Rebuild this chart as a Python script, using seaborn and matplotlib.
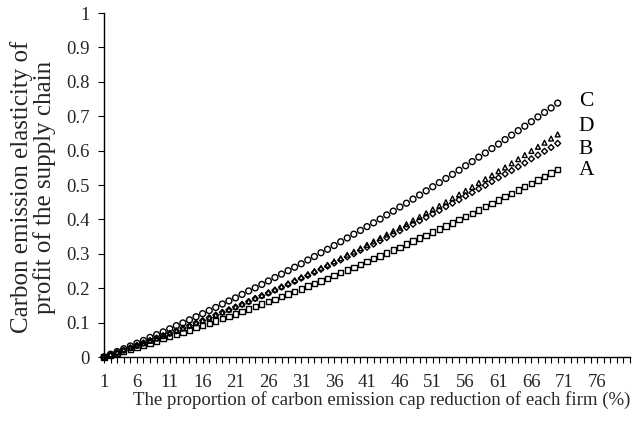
import matplotlib
matplotlib.use("Agg")
import matplotlib.pyplot as plt
import seaborn as sns
import pandas as pd

x_vals = list(range(1, 71))

series_A = [0.000, 0.006, 0.011, 0.017, 0.023, 0.029, 0.035, 0.041, 0.047, 0.053,
            0.059, 0.066, 0.072, 0.078, 0.085, 0.092, 0.098, 0.105, 0.112, 0.118,
            0.125, 0.132, 0.139, 0.146, 0.154, 0.161, 0.168, 0.176, 0.183, 0.190,
            0.198, 0.206, 0.213, 0.221, 0.229, 0.237, 0.245, 0.253, 0.261, 0.269,
            0.277, 0.286, 0.294, 0.302, 0.311, 0.319, 0.328, 0.337, 0.346, 0.354,
            0.363, 0.372, 0.381, 0.390, 0.400, 0.409, 0.418, 0.427, 0.437, 0.446,
            0.456, 0.466, 0.475, 0.485, 0.495, 0.505, 0.515, 0.525, 0.535, 0.545]

series_B = [0.000, 0.007, 0.013, 0.020, 0.027, 0.034, 0.041, 0.048, 0.055, 0.062,
            0.069, 0.076, 0.084, 0.091, 0.099, 0.106, 0.114, 0.122, 0.130, 0.137,
            0.145, 0.153, 0.161, 0.170, 0.178, 0.186, 0.194, 0.203, 0.211, 0.220,
            0.229, 0.237, 0.246, 0.255, 0.264, 0.273, 0.282, 0.291, 0.300, 0.310,
            0.319, 0.328, 0.338, 0.347, 0.357, 0.367, 0.377, 0.386, 0.396, 0.406,
            0.416, 0.426, 0.437, 0.447, 0.457, 0.468, 0.478, 0.489, 0.499, 0.510,
            0.521, 0.532, 0.542, 0.553, 0.564, 0.576, 0.587, 0.598, 0.609, 0.621]

series_C = [0.000, 0.008, 0.016, 0.024, 0.032, 0.040, 0.048, 0.057, 0.065, 0.073,
            0.082, 0.091, 0.099, 0.108, 0.117, 0.126, 0.135, 0.144, 0.154, 0.163,
            0.172, 0.182, 0.192, 0.201, 0.211, 0.221, 0.231, 0.241, 0.251, 0.261,
            0.271, 0.282, 0.292, 0.303, 0.313, 0.324, 0.335, 0.346, 0.357, 0.368,
            0.379, 0.390, 0.401, 0.413, 0.424, 0.436, 0.447, 0.459, 0.471, 0.483,
            0.495, 0.507, 0.519, 0.531, 0.543, 0.556, 0.568, 0.581, 0.593, 0.606,
            0.619, 0.632, 0.645, 0.658, 0.671, 0.684, 0.698, 0.711, 0.724, 0.738]

series_D = [0.000, 0.007, 0.013, 0.020, 0.026, 0.033, 0.040, 0.047, 0.054, 0.061,
            0.069, 0.076, 0.083, 0.091, 0.099, 0.106, 0.114, 0.122, 0.130, 0.138,
            0.146, 0.154, 0.162, 0.171, 0.179, 0.188, 0.196, 0.205, 0.214, 0.223,
            0.232, 0.241, 0.250, 0.259, 0.268, 0.278, 0.287, 0.297, 0.306, 0.316,
            0.326, 0.336, 0.346, 0.356, 0.366, 0.376, 0.386, 0.397, 0.407, 0.418,
            0.429, 0.439, 0.450, 0.461, 0.472, 0.483, 0.494, 0.506, 0.517, 0.528,
            0.540, 0.551, 0.563, 0.575, 0.587, 0.599, 0.611, 0.623, 0.635, 0.647]

series_names = ["A", "B", "C", "D"]
series_values = [series_A, series_B, series_C, series_D]

end_labels = ["C", "D", "B", "A"]

x_tick_labels = list(range(1, 77, 5))
y_ticks = [0, 0.1, 0.2, 0.3, 0.4, 0.5, 0.6, 0.7, 0.8, 0.9, 1.0]
y_tick_labels = ["0", "0.1", "0.2", "0.3", "0.4", "0.5", "0.6", "0.7", "0.8", "0.9", "1"]

x_label = "The proportion of carbon emission cap reduction of each firm (%)"
y_label = "Carbon emission elasticity of\nprofit of the supply chain"

# layout-only: where the end labels sit (data coords)
label_x = 73.2
label_y = {"C": 0.744, "D": 0.669, "B": 0.602, "A": 0.541}

sns.set_style("white")
plt.rcParams["font.family"] = ["Liberation Serif", "DejaVu Serif"]

fig = plt.figure(figsize=(6.33, 4.30), dpi=100)
ax = fig.add_axes([104 / 633, 1 - 357 / 430, 526 / 633, 344 / 430])

markers = {"A": "s", "B": "D", "C": "o", "D": "^"}
sizes = {"A": 15, "B": 9, "C": 18, "D": 12}

for name, vals in zip(series_names, series_values):
    df = pd.DataFrame({"x": x_vals, "y": vals})
    sns.scatterplot(data=df, x="x", y="y", ax=ax, marker=markers[name],
                    s=sizes[name], facecolor="none", edgecolor="black",
                    linewidth=1.0, zorder=3, clip_on=False)

for lab in end_labels:
    ax.text(label_x, label_y[lab], lab, fontsize=15.5, va="center", ha="left",
            color="black")

ax.set_xlim(1, 81)
ax.set_ylim(0, 1)
ax.set_xticks(list(range(1, 82)))
ax.set_xticklabels([str(v) if v in x_tick_labels else "" for v in range(1, 82)],
                   fontsize=13.5)
ax.set_yticks(y_ticks)
ax.set_yticklabels(y_tick_labels, fontsize=13.5)
ax.tick_params(axis="x", direction="out", length=4, width=0.8, color="black",
               bottom=True, pad=8)
ax.tick_params(axis="y", direction="out", length=4, width=0.8, color="black",
               left=True, pad=6)

for side in ["top", "right"]:
    ax.spines[side].set_visible(False)
for side in ["left", "bottom"]:
    ax.spines[side].set_color("black")
    ax.spines[side].set_linewidth(1.0)

ax.set_xlabel(x_label, fontsize=13.5, va="center")
ax.xaxis.set_label_coords(0.527, -0.125)
ax.set_ylabel(y_label, fontsize=18, va="center", linespacing=1.0)
ax.yaxis.set_label_coords(-0.135, 0.494)

fig.savefig("out.png", dpi=100)
